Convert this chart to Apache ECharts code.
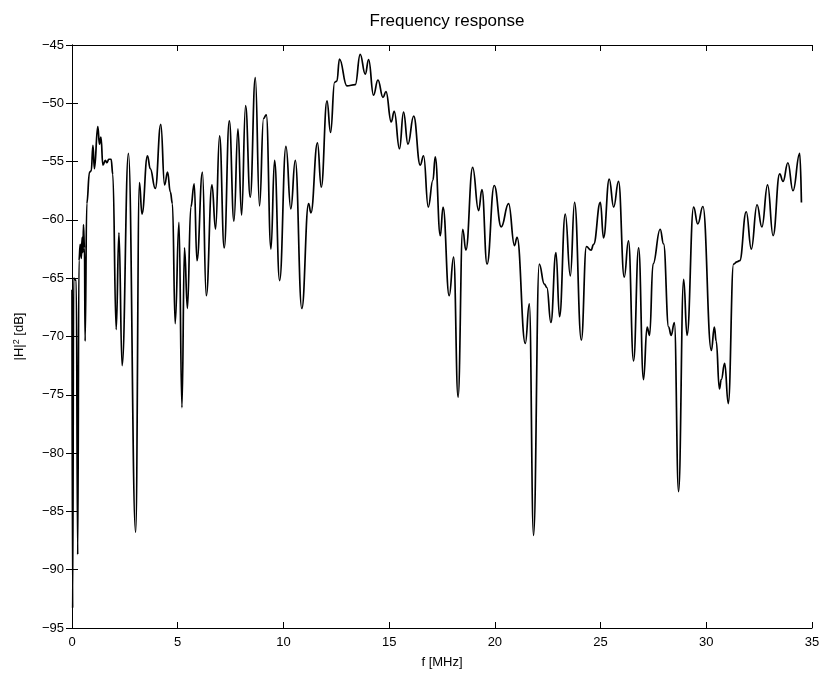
<!DOCTYPE html>
<html>
<head>
<meta charset="utf-8">
<script src="https://cdn.jsdelivr.net/npm/echarts@6/dist/echarts.min.js"></script>
<style>
html,body{margin:0;padding:0;background:#fff;}
#chart{width:824px;height:678px;}
</style>
</head>
<body>
<div id="chart"></div>
<script>
const freqMHz = [
0.00,0.03,0.08,0.20,0.27,0.33,0.39,0.44,0.48,0.52,0.54,0.59,0.62,0.70,0.83,0.91,0.99,1.06,1.22,1.30,
1.37,1.46,1.58,1.65,1.74,1.85,1.93,2.09,2.22,2.37,2.67,3.01,3.19,3.31,3.57,3.70,3.94,4.20,4.38,4.52,
4.65,4.75,4.88,5.06,5.20,5.32,5.46,5.62,5.78,5.91,6.17,6.35,6.62,6.79,6.98,7.20,7.44,7.66,7.85,8.02,
8.21,8.43,8.67,8.87,9.06,9.19,9.41,9.58,9.82,10.12,10.35,10.56,10.87,11.19,11.30,11.61,11.79,12.06,12.23,12.42,
12.53,12.65,13.00,13.40,13.63,13.87,14.03,14.26,14.47,14.71,14.85,15.10,15.24,15.49,15.68,15.89,16.16,16.47,16.63,16.85,
17.07,17.18,17.42,17.55,17.84,18.05,18.26,18.48,18.63,18.95,19.23,19.39,19.63,19.97,20.30,20.65,20.93,21.05,21.44,21.63,
21.83,22.10,22.34,22.46,22.65,22.89,23.06,23.33,23.57,23.77,24.09,24.33,24.55,24.67,24.99,25.14,25.41,25.62,25.85,26.12,
26.32,26.56,26.80,27.03,27.20,27.32,27.48,27.82,27.98,28.22,28.34,28.49,28.69,28.93,29.09,29.40,29.60,29.84,30.24,30.38,
30.47,30.62,30.71,30.87,31.04,31.29,31.45,31.58,31.89,32.13,32.40,32.63,32.90,33.16,33.47,33.63,33.86,34.10,34.42,34.50
];
const magnitudeDb = [
-66.0,-93.3,-65.0,-65.2,-88.7,-63.5,-62.1,-63.3,-61.5,-62.8,-60.4,-62.4,-70.4,-58.6,-55.9,-55.8,-53.6,-55.6,-52.0,-53.5,
-52.9,-55.3,-54.9,-55.1,-54.8,-54.8,-56.1,-69.4,-61.1,-72.5,-54.3,-86.8,-56.8,-59.5,-54.5,-55.6,-57.3,-51.8,-57.0,-55.9,
-57.6,-58.6,-68.9,-60.2,-76.1,-62.4,-67.6,-58.9,-56.9,-63.5,-55.9,-66.5,-57.0,-60.8,-52.8,-62.4,-51.5,-60.1,-52.2,-59.6,
-50.2,-58.05,-47.8,-58.8,-51.3,-51.0,-62.5,-54.9,-65.2,-53.7,-59.05,-54.9,-67.6,-58.6,-59.4,-53.4,-57.2,-49.8,-52.5,-48.2,
-48.1,-46.2,-48.5,-48.4,-45.8,-47.5,-46.25,-49.3,-48.0,-49.5,-49.0,-51.6,-50.7,-53.9,-50.75,-53.5,-51.1,-55.3,-54.5,-58.9,
-56.6,-54.6,-61.35,-58.9,-66.5,-63.2,-75.2,-60.8,-62.6,-55.5,-59.2,-57.4,-63.8,-57.05,-60.6,-58.6,-62.2,-61.5,-70.6,-67.2,
-87.06,-63.8,-65.5,-65.8,-68.8,-62.8,-68.3,-59.5,-64.8,-58.5,-70.3,-62.3,-62.6,-62.1,-58.5,-61.55,-56.5,-58.9,-56.7,-64.9,
-61.8,-72.1,-62.4,-73.7,-69.2,-69.9,-63.8,-60.8,-62.06,-69.2,-69.9,-68.8,-83.3,-65.1,-69.9,-58.9,-60.35,-58.85,-71.2,-69.2,
-70.4,-74.5,-73.7,-72.3,-75.75,-63.8,-63.6,-63.5,-59.3,-62.5,-58.7,-60.6,-57.0,-61.35,-56.05,-56.7,-55.1,-57.5,-54.3,-58.5
];
const xTicks = {min: 0, max: 35, interval: 5};
const yTicks = {min: -95, max: -45, interval: 5};

const chart = echarts.init(document.getElementById('chart'), null, {renderer: 'canvas'});
const font = 'Liberation Sans, Arial, Helvetica, sans-serif';
const seriesData = freqMHz.map((f, i) => [f, magnitudeDb[i]]);
const axisLineStyle = {show: true, lineStyle: {color: '#000', width: 1}};
const tickStyle = {show: true, inside: true, length: 6, lineStyle: {color: '#000', width: 1}};
const minusFmt = v => String(v).replace('-', '\u2212');

chart.setOption({
  animation: false,
  backgroundColor: '#fff',
  title: {
    text: 'Frequency response',
    left: 442, top: 8, textAlign: 'center',
    textStyle: {fontFamily: font, fontSize: 17, fontWeight: 'normal', color: '#000'}
  },
  grid: {left: 72, right: 12, top: 45, bottom: 50, containLabel: false},
  xAxis: [{
    type: 'value', min: xTicks.min, max: xTicks.max, interval: xTicks.interval,
    position: 'bottom',
    name: 'f [MHz]', nameLocation: 'middle', nameGap: 28,
    nameTextStyle: {fontFamily: font, fontSize: 13, color: '#000'},
    axisLine: axisLineStyle, axisTick: tickStyle,
    axisLabel: {fontFamily: font, fontSize: 13, color: '#000', margin: 8, formatter: minusFmt},
    splitLine: {show: false}
  }, {
    type: 'value', min: xTicks.min, max: xTicks.max, interval: xTicks.interval,
    position: 'top',
    axisLine: axisLineStyle, axisTick: tickStyle,
    axisLabel: {show: false}, splitLine: {show: false}
  }],
  yAxis: [{
    type: 'value', min: yTicks.min, max: yTicks.max, interval: yTicks.interval,
    position: 'left',
    name: '|H|{sup|2} [dB]', nameLocation: 'middle', nameGap: 45, nameRotate: 90,
    nameTextStyle: {fontFamily: font, fontSize: 13, color: '#000',
      rich: {sup: {fontFamily: font, fontSize: 9, color: '#000', verticalAlign: 'top', padding: [0, 0, 6, 0]}}},
    axisLine: axisLineStyle, axisTick: tickStyle,
    axisLabel: {fontFamily: font, fontSize: 13, color: '#000', margin: 8, formatter: minusFmt},
    splitLine: {show: false}
  }, {
    type: 'value', min: yTicks.min, max: yTicks.max, interval: yTicks.interval,
    position: 'right',
    axisLine: axisLineStyle, axisTick: tickStyle,
    axisLabel: {show: false}, splitLine: {show: false}
  }],
  series: [{
    type: 'line',
    data: seriesData,
    xAxisIndex: 0, yAxisIndex: 0,
    showSymbol: false,
    smooth: 0.45,
    smoothMonotone: 'x',
    lineStyle: {color: '#000', width: 1.7},
    clip: true
  }]
});
</script>
</body>
</html>
